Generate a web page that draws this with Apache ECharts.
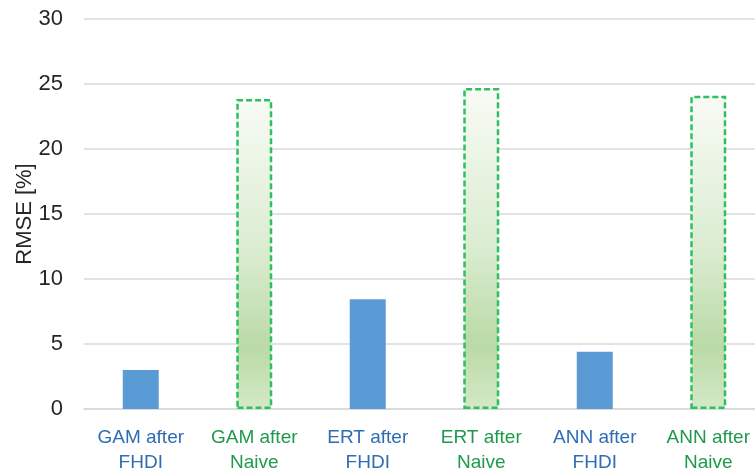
<!DOCTYPE html>
<html>
<head>
<meta charset="utf-8">
<script src="https://cdn.jsdelivr.net/npm/echarts@6/dist/echarts.min.js"></script>
<style>
  html, body { margin: 0; padding: 0; background: #ffffff; }
  #chart { width: 755px; height: 473px; }
</style>
</head>
<body>
<div id="chart"></div>
<script>
// Model names, imputation method of each bar and its RMSE
const models = ['GAM', 'GAM', 'ERT', 'ERT', 'ANN', 'ANN'];
const methods = ['FHDI', 'Naive', 'FHDI', 'Naive', 'FHDI', 'Naive'];
const rmse = [3.0, 23.85, 8.45, 24.7, 4.4, 24.1];
const yTicks = [0, 5, 10, 15, 20, 25, 30];

const categories = models.map((m, i) => m + ' after\n' + methods[i]);

const blue = '#5b9bd5';
const naiveFill = new echarts.graphic.LinearGradient(0, 0, 0, 1, [
  { offset: 0, color: '#f8fbf5' },
  { offset: 0.5, color: '#daecd0' },
  { offset: 0.8, color: '#badaa6' },
  { offset: 1, color: '#d4e9c7' }
]);

const barData = rmse.map((v, i) => {
  if (methods[i] === 'Naive') {
    return {
      value: v,
      itemStyle: {
        color: naiveFill,
        borderColor: '#2ec060',
        borderWidth: 2.5,
        borderType: [6, 3]
      }
    };
  }
  return { value: v, itemStyle: { color: blue } };
});

const chart = echarts.init(document.getElementById('chart'));
chart.setOption({
  animation: false,
  // the plot runs a little past the right edge of the canvas
  grid: { left: 84, width: 681, top: 19, bottom: 64, outerBoundsMode: 'none', containLabel: false },
  xAxis: {
    type: 'category',
    data: categories,
    axisLine: { show: true, lineStyle: { color: '#d9d9d9', width: 1.5 } },
    axisTick: { show: false },
    axisLabel: {
      interval: 0,
      margin: 16,
      formatter: function (value, idx) {
        const tag = methods[idx] === 'Naive' ? 'g' : 'b';
        return value.split('\n').map(s => '{' + tag + '|' + s + '}').join('\n');
      },
      rich: {
        b: { color: '#2e6db4', fontSize: 19, fontFamily: 'Liberation Sans', lineHeight: 25 },
        g: { color: '#1f9a4c', fontSize: 19, fontFamily: 'Liberation Sans', lineHeight: 25 }
      }
    }
  },
  yAxis: {
    type: 'value',
    min: yTicks[0],
    max: yTicks[yTicks.length - 1],
    interval: yTicks[1] - yTicks[0],
    name: 'RMSE [%]',
    nameLocation: 'middle',
    nameGap: 48,
    nameMoveOverlap: false,
    nameTextStyle: { color: '#262626', fontSize: 22, fontFamily: 'Liberation Sans' },
    axisLine: { show: false },
    axisTick: { show: false },
    axisLabel: { color: '#262626', fontSize: 22, fontFamily: 'Liberation Sans', margin: 21 },
    splitLine: { lineStyle: { color: '#d9d9d9', width: 1.5 } }
  },
  series: [{
    type: 'bar',
    barWidth: 36,
    data: barData
  }]
});
</script>
</body>
</html>
